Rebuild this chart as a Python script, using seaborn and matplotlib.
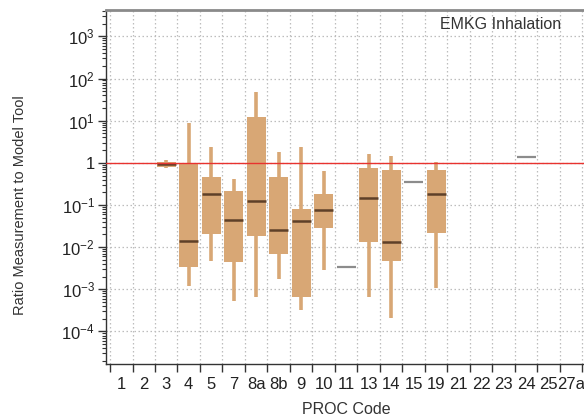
import numpy as np
import pandas as pd
import matplotlib
matplotlib.use("Agg")
import matplotlib.pyplot as plt
from matplotlib.ticker import FixedLocator, LogLocator, FuncFormatter, NullFormatter
import seaborn as sns

# PROC codes along the x axis
codes = ["1", "2", "3", "4", "5", "7", "8a", "8b", "9", "10", "11",
         "13", "14", "15", "19", "21", "22", "23", "24", "25", "27a"]

# Five-number summaries of the measurement / model-tool ratio per PROC code
box_codes = ["3", "4", "5", "7", "8a", "8b", "9", "10", "13", "14", "19"]
box_min = [0.76, 0.0012, 0.0048, 0.00054, 0.00065, 0.0018, 0.00032, 0.0029, 0.00065, 0.00021, 0.0011]
box_q1 = [0.81, 0.0034, 0.020, 0.0045, 0.018, 0.0068, 0.00065, 0.028, 0.013, 0.0047, 0.022]
box_median = [0.95, 0.014, 0.18, 0.045, 0.127, 0.025, 0.042, 0.076, 0.15, 0.013, 0.18]
box_q3 = [1.05, 1.0, 0.46, 0.21, 12.0, 0.46, 0.08, 0.18, 0.75, 0.68, 0.66]
box_max = [1.17, 9.0, 2.4, 0.42, 47.0, 1.76, 2.4, 0.65, 1.6, 1.47, 1.07]

# PROC codes with a single measurement
single_codes = ["11", "15", "24"]
single_values = [0.0033, 0.36, 1.41]

BOX = "#D8A775"
MEDIAN = "#5E4028"
SINGLE = "#8C8C8C"
GRID = "#BDBDBD"

sns.set_style("ticks")
plt.rcParams["font.family"] = ["Liberation Sans", "DejaVu Sans"]
plt.rcParams["mathtext.fontset"] = "custom"
plt.rcParams["mathtext.rm"] = "Liberation Sans"
plt.rcParams["mathtext.it"] = "Liberation Sans:italic"
plt.rcParams["mathtext.bf"] = "Liberation Sans:bold"

# Long-form frames: the five summary points of each code give exact quartiles
rows = []
for c, a, b, m, d, e in zip(box_codes, box_min, box_q1, box_median, box_q3, box_max):
    for v in (a, b, m, d, e):
        rows.append({"code": c, "ratio": v})
box_df = pd.DataFrame(rows)
single_df = pd.DataFrame({"code": single_codes, "ratio": single_values})

fig = plt.figure(figsize=(5.84, 4.17), dpi=100)
ax = fig.add_axes([0.1815, 0.1264, 0.8185, 0.850])

sns.boxplot(
    data=box_df, x="code", y="ratio", order=codes, whis=(0, 100),
    width=0.86, log_scale=True, color=BOX, saturation=1,
    showcaps=False, showfliers=False, ax=ax,
    boxprops=dict(facecolor=BOX, edgecolor=BOX, linewidth=0),
    whiskerprops=dict(color=BOX, linewidth=2.6, solid_capstyle="butt"),
    medianprops=dict(color=MEDIAN, linewidth=1.8, solid_capstyle="butt"),
)
sns.boxplot(
    data=single_df, x="code", y="ratio", order=codes, whis=(0, 100),
    width=0.86, log_scale=True, color="white", saturation=1,
    showcaps=False, showfliers=False, ax=ax,
    boxprops=dict(facecolor="none", edgecolor="none", linewidth=0),
    whiskerprops=dict(color="none", linewidth=0),
    medianprops=dict(color=SINGLE, linewidth=1.6, solid_capstyle="butt"),
)

# Reference ratio of 1
ax.axhline(1, color="#E8332F", linewidth=1.0, zorder=6)

ax.set_xlim(-0.678, 20.567)
ax.set_ylim(10 ** -4.78, 10 ** 3.63)

# x axis: labels centred in each slot, ticks and grid on slot boundaries
ax.xaxis.set_major_locator(FixedLocator(np.arange(len(codes))))
ax.set_xticklabels(codes)
ax.xaxis.set_minor_locator(FixedLocator(np.arange(-0.5, len(codes), 1.0)))
ax.tick_params(axis="x", which="major", length=0, pad=9, labelsize=12, colors="#222222")
ax.tick_params(axis="x", which="minor", length=5.5, width=1.0, direction="out", color="#333333")

# y axis: decades with log minor ticks
ax.yaxis.set_major_locator(FixedLocator([10.0 ** e for e in range(-4, 4)]))
ax.yaxis.set_minor_locator(LogLocator(base=10, subs=np.arange(2, 10), numticks=30))
ax.yaxis.set_minor_formatter(NullFormatter())


def decade_label(v, pos):
    e = int(round(np.log10(v)))
    if e == 0:
        return "1"
    return r"$\mathregular{10^{%d}}$" % e


ax.yaxis.set_major_formatter(FuncFormatter(decade_label))
ax.tick_params(axis="y", which="major", length=6, width=1.0, pad=2, labelsize=12,
               direction="out", color="#333333", labelcolor="#222222")
ax.tick_params(axis="y", which="minor", length=3, width=0.8, direction="out", color="#333333")

ax.set_axisbelow(True)
ax.grid(axis="x", which="minor", color=GRID, linestyle=(0, (1.2, 2.0)), linewidth=0.9)
ax.grid(axis="x", which="major", visible=False)
ax.grid(axis="y", which="major", color=GRID, linestyle=(0, (1.2, 2.0)), linewidth=0.9)
ax.grid(axis="y", which="minor", visible=False)

for side in ("left", "bottom"):
    ax.spines[side].set_color("#333333")
    ax.spines[side].set_linewidth(1.0)
ax.spines["top"].set_visible(True)
ax.spines["top"].set_color("#8A8A8A")
ax.spines["top"].set_linewidth(2.0)
ax.spines["right"].set_visible(False)

ax.set_xlabel("PROC Code", fontsize=11.5, color="#333333")
ax.set_ylabel("Ratio Measurement to Model Tool", fontsize=10.5, color="#333333")
ax.xaxis.set_label_coords(0.502, -0.105)
ax.yaxis.set_label_coords(-0.165, 0.45)

ax.text(0.953, 0.958, "EMKG Inhalation", transform=ax.transAxes,
        ha="right", va="center", fontsize=11.5, color="#333333")

fig.savefig("out.png", dpi=100)
